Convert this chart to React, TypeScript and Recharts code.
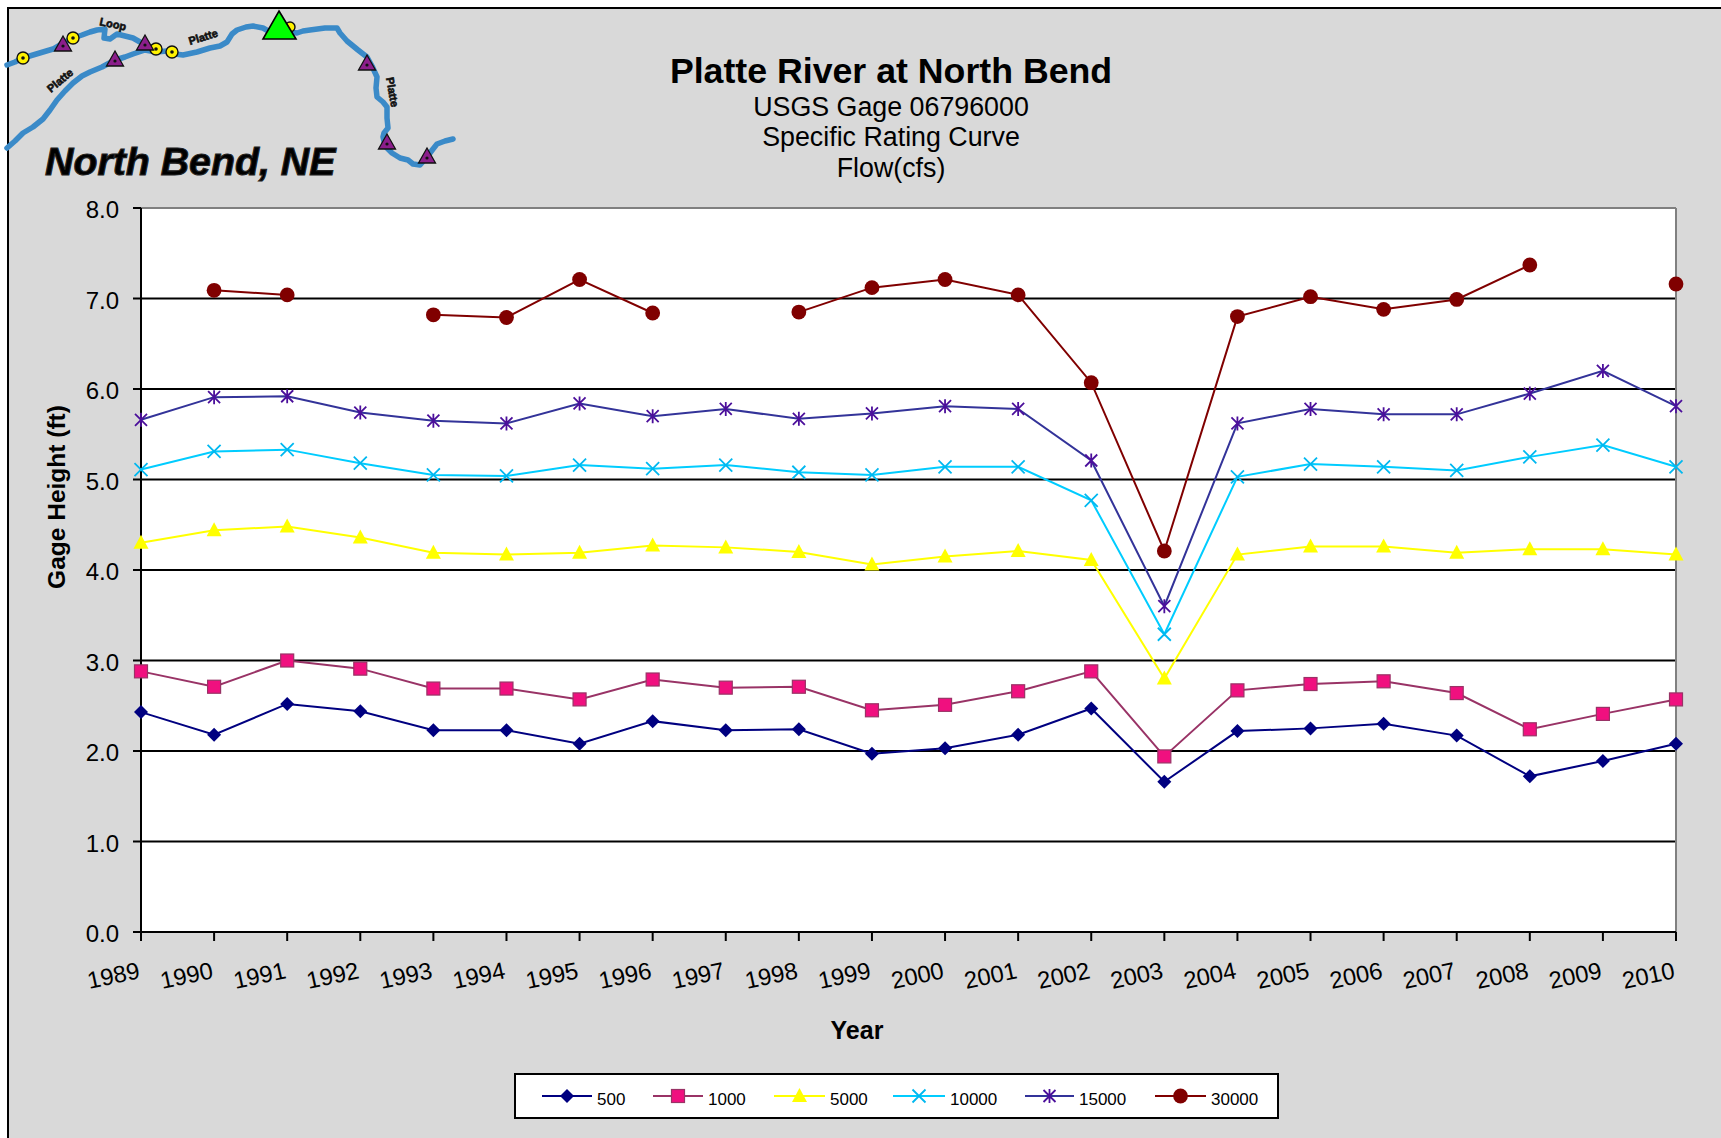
import { CartesianGrid, Legend, Line, LineChart, ReferenceLine, XAxis, YAxis } from 'recharts';

const years = [
  1989, 1990, 1991, 1992, 1993, 1994, 1995, 1996, 1997, 1998, 1999,
  2000, 2001, 2002, 2003, 2004, 2005, 2006, 2007, 2008, 2009, 2010,
];
const flow500 = [2.43, 2.18, 2.52, 2.44, 2.23, 2.23, 2.08, 2.33, 2.23, 2.24, 1.97, 2.03, 2.18, 2.47, 1.66, 2.22, 2.25, 2.3, 2.17, 1.72, 1.89, 2.08];
const flow1000 = [2.88, 2.71, 3.0, 2.91, 2.69, 2.69, 2.57, 2.79, 2.7, 2.71, 2.45, 2.51, 2.66, 2.88, 1.94, 2.67, 2.74, 2.77, 2.64, 2.24, 2.41, 2.57];
const flow5000 = [4.3, 4.44, 4.48, 4.36, 4.19, 4.17, 4.19, 4.27, 4.25, 4.2, 4.06, 4.15, 4.21, 4.11, 2.8, 4.17, 4.26, 4.26, 4.19, 4.23, 4.23, 4.17];
const flow10000 = [5.11, 5.31, 5.33, 5.18, 5.05, 5.04, 5.16, 5.12, 5.16, 5.08, 5.05, 5.14, 5.14, 4.77, 3.29, 5.03, 5.17, 5.14, 5.1, 5.25, 5.38, 5.14];
const flow15000 = [5.66, 5.91, 5.92, 5.74, 5.65, 5.62, 5.84, 5.7, 5.78, 5.67, 5.73, 5.81, 5.78, 5.21, 3.6, 5.62, 5.78, 5.72, 5.72, 5.95, 6.2, 5.81];
const flow30000 = [null, 7.09, 7.04, null, 6.82, 6.79, 7.21, 6.84, null, 6.85, 7.12, 7.21, 7.04, 6.07, 4.21, 6.8, 7.02, 6.88, 6.99, 7.37, null, 7.16];
const yTicks = [0, 1, 2, 3, 4, 5, 6, 7, 8];

const FONT = '"Liberation Sans", Arial, sans-serif';

type MarkerKind = 'diamond' | 'square' | 'triangle' | 'x' | 'star' | 'circle';

const series: { key: string; values: (number | null)[]; color: string; kind: MarkerKind }[] = [
  { key: '500', values: flow500, color: '#000080', kind: 'diamond' },
  { key: '1000', values: flow1000, color: '#993366', kind: 'square' },
  { key: '5000', values: flow5000, color: '#FFFF00', kind: 'triangle' },
  { key: '10000', values: flow10000, color: '#00CCFF', kind: 'x' },
  { key: '15000', values: flow15000, color: '#333399', kind: 'star' },
  { key: '30000', values: flow30000, color: '#800000', kind: 'circle' },
];

const data = years.map((year, i) => {
  const row: Record<string, number | null> = { year };
  series.forEach((s) => {
    row[s.key] = s.values[i];
  });
  return row;
});

const Marker = ({ kind, x, y }: { kind: MarkerKind; x: number; y: number }) => {
  switch (kind) {
    case 'diamond':
      return <path d={`M${x} ${y - 7}L${x + 7} ${y}L${x} ${y + 7}L${x - 7} ${y}Z`} fill="#000080" />;
    case 'square':
      return <rect x={x - 6.5} y={y - 6.5} width={13} height={13} fill="#F0107F" stroke="#993366" strokeWidth={1.2} />;
    case 'triangle':
      return <path d={`M${x} ${y - 8}L${x + 7.5} ${y + 6}L${x - 7.5} ${y + 6}Z`} fill="#FFFF00" />;
    case 'x':
      return <path d={`M${x - 6.5} ${y - 6.5}L${x + 6.5} ${y + 6.5}M${x - 6.5} ${y + 6.5}L${x + 6.5} ${y - 6.5}`} stroke="#00B8F0" strokeWidth={1.8} fill="none" />;
    case 'star':
      return (
        <path
          d={`M${x - 6} ${y - 6}L${x + 6} ${y + 6}M${x - 6} ${y + 6}L${x + 6} ${y - 6}M${x} ${y - 7}L${x} ${y + 7}`}
          stroke="#4B0F9B"
          strokeWidth={1.8}
          fill="none"
        />
      );
    default:
      return <circle cx={x} cy={y} r={7.4} fill="#800000" />;
  }
};

const YearTick = ({ x, y, payload }: any) => (
  <text
    x={x}
    y={y + 35}
    transform={`rotate(-12 ${x} ${y + 35})`}
    textAnchor="end"
    fontFamily={FONT}
    fontSize={23.8}
    fill="#000"
  >
    {payload.value}
  </text>
);

const HeightTick = ({ x, y, payload }: any) => (
  <text x={x - 12} y={y + 10} textAnchor="end" fontFamily={FONT} fontSize={24} fill="#000">
    {payload.value.toFixed(1)}
  </text>
);

// item positions in the legend box, left edge of the key line
const legendX = [28, 139, 260, 379, 511, 641];
const legendLine = [50, 50, 51, 52, 49, 51];

const GageLegend = () => (
  <svg width={765} height={46} style={{ display: 'block' }}>
    <rect x={1} y={1} width={763} height={44} fill="#fff" stroke="#000" strokeWidth={2} />
    {series.map((s, i) => (
      <g key={s.key}>
        <line x1={legendX[i]} x2={legendX[i] + legendLine[i]} y1={23} y2={23} stroke={s.color} strokeWidth={2} />
        <Marker kind={s.kind} x={legendX[i] + legendLine[i] / 2} y={23} />
        <text x={legendX[i] + legendLine[i] + 5} y={32} fontFamily={FONT} fontSize={17} fill="#000">
          {s.key}
        </text>
      </g>
    ))}
  </svg>
);

const lower =
  'M7 148L15 141L23 133L33 127L43 119L50 110L57 100L65 91L73 83L82 76L90 72L102 67L115 60L125 57L133 54L145 50L156 52L167 51L175 54L183 55L197 52L210 48L220 46L227 42L232 34L237 30L246 27L253 26L263 28L270 32L280 33L290 32L297 33L303 31L310 30L325 28L337 28L340 33L347 41L358 50L367 57L372 66L377 77L376 88L377 97L383 102L387 107L387 118L388 128L384 133L383 137L385 146L392 153L400 158L408 160L413 164L420 165L427 157L433 149L437 144L445 141L453 139';
const loup =
  'M7 65L15 62L23 58L33 55L43 52L53 49L63 43L73 38L82 35L90 32L97 30L105 29L104 38L110 39L117 34L125 36L133 38L140 42L146 46';

const sites = [
  [63, 45],
  [115, 60],
  [145, 44],
  [367, 64],
  [387, 143],
  [427, 157],
];
const gauges = [
  [23, 58],
  [73, 38],
  [156, 49],
  [172, 52],
];

const MapInset = () => (
  <g>
    <path d={lower} fill="none" stroke="#3A8AC8" strokeWidth={5.5} strokeLinejoin="round" strokeLinecap="round" />
    <path d={loup} fill="none" stroke="#3A8AC8" strokeWidth={5.5} strokeLinejoin="round" strokeLinecap="round" />
    {gauges.map(([x, y]) => (
      <g key={`${x}-${y}`}>
        <circle cx={x} cy={y} r={6} fill="#FFF200" stroke="#111" strokeWidth={1.4} />
        <circle cx={x} cy={y} r={1.8} fill="#111" />
      </g>
    ))}
    <circle cx={290} cy={27} r={5} fill="#FFF200" stroke="#111" strokeWidth={1.4} />
    {sites.map(([x, y]) => (
      <g key={`${x}-${y}`}>
        <path d={`M${x} ${y - 9}L${x + 8.5} ${y + 6}L${x - 8.5} ${y + 6}Z`} fill="#8B1E8B" stroke="#111" strokeWidth={1.3} />
        <circle cx={x} cy={y + 1} r={1.6} fill="#111" />
      </g>
    ))}
    <path d="M279 11L296 39L263 39Z" fill="#00FF00" stroke="#000" strokeWidth={1.6} />
    <g fontFamily={FONT} fontWeight="bold" fontSize={11} fill="#111" stroke="#111" strokeWidth={0.6}>
      <text transform="translate(99 25) rotate(12)">Loop</text>
      <text transform="translate(190 45) rotate(-17)">Platte</text>
      <text transform="translate(51 93) rotate(-40)">Platte</text>
      <text transform="translate(386 78) rotate(80)">Platte</text>
    </g>
    <text x={45} y={175} fontFamily={FONT} fontWeight="bold" fontStyle="italic" fontSize={39.3} fill="#000" stroke="#222" strokeWidth={1.1}>
      North Bend, NE
    </text>
  </g>
);

const App = () => (
  <div style={{ position: 'absolute', left: 0, top: 0, width: 1721, height: 1138, background: '#fff', overflow: 'hidden' }}>
    <div
      style={{
        position: 'absolute',
        left: 7,
        top: 7,
        width: 1714,
        height: 1131,
        boxSizing: 'border-box',
        background: '#D9D9D9',
        borderLeft: '2px solid #000',
        borderTop: '2px solid #000',
      }}
    />
    <div style={{ position: 'absolute', left: 0, top: 0 }}>
      <LineChart width={1721} height={1138} data={data} margin={{ top: 208, right: 45, bottom: 126, left: 81 }}>
        <CartesianGrid
          vertical={false}
          horizontalValues={yTicks.slice(1, 8)}
          stroke="#000"
          strokeWidth={2}
          fill="#fff"
          fillOpacity={1}
        />
        <ReferenceLine y={8} stroke="#808080" strokeWidth={2} />
        <ReferenceLine x={2010} stroke="#808080" strokeWidth={2} />
        <XAxis
          dataKey="year"
          scale="point"
          height={80}
          interval={0}
          tick={<YearTick />}
          tickLine={{ stroke: '#000', strokeWidth: 2 }}
          tickSize={9}
          axisLine={{ stroke: '#000', strokeWidth: 2 }}
        />
        <YAxis
          width={60}
          domain={[0, 8]}
          ticks={yTicks}
          interval={0}
          tick={<HeightTick />}
          tickLine={{ stroke: '#000', strokeWidth: 2 }}
          tickSize={8}
          axisLine={{ stroke: '#000', strokeWidth: 2 }}
        />
        <Legend
          layout="vertical"
          align="center"
          verticalAlign="middle"
          content={<GageLegend />}
          wrapperStyle={{ left: 514, top: 1073, width: 765, height: 46 }}
        />
        {series.map((s) => (
          <Line
            key={s.key}
            dataKey={s.key}
            stroke={s.color}
            strokeWidth={2}
            type="linear"
            isAnimationActive={false}
            dot={(p: any) => (p.value == null ? <g key={p.index} /> : <Marker key={p.index} kind={s.kind} x={p.cx} y={p.cy} />)}
          />
        ))}
      </LineChart>
    </div>
    <svg width={1721} height={1138} style={{ position: 'absolute', left: 0, top: 0, pointerEvents: 'none' }}>
      <MapInset />
      <g fontFamily={FONT} textAnchor="middle" fill="#000">
        <text x={891} y={83} fontSize={35.7} fontWeight="bold">Platte River at North Bend</text>
        <text x={891} y={116} fontSize={26.8}>USGS Gage 06796000</text>
        <text x={891} y={146} fontSize={26.8}>Specific Rating Curve</text>
        <text x={891} y={177} fontSize={26.8}>Flow(cfs)</text>
        <text x={857} y={1039} fontSize={25} fontWeight="bold">Year</text>
        <text transform="translate(65 497) rotate(-90)" fontSize={24.5} fontWeight="bold">Gage Height (ft)</text>
      </g>
    </svg>
  </div>
);

export default App;
